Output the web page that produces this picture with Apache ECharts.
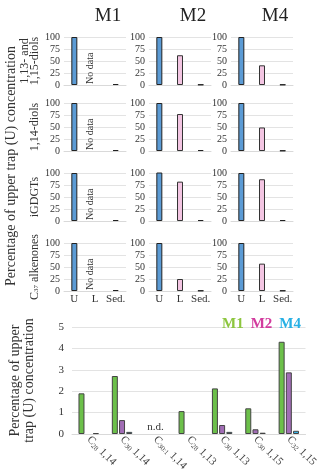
<!DOCTYPE html>
<html>
<head>
<meta charset="utf-8">
<script src="https://cdn.jsdelivr.net/npm/echarts@6/dist/echarts.min.js"></script>
<style>
html, body { margin: 0; background: #fff; }
#main { width: 320px; height: 476px; }
</style>
</head>
<body>
<div id="main"></div>
<script>
// small panels: percentage of upper trap (U) concentration
const sites = ['M1', 'M2', 'M4'];
const trapCats = ['U', 'L', 'Sed.'];
const compounds = ['1,13- and\n1,15-diols', '1,14-diols', 'iGDGTs', '{a|C}{s|37}{a| alkenones}'];
const m1Traps = [[100, null, 2], [100, null, 2], [100, null, 2], [100, null, 2]];
const m2Traps = [[100, 62, 1], [100, 77, 2], [101, 82, 2], [100, 25, 1]];
const m4Traps = [[100, 41, 1], [100, 49, 1], [100, 87, 2], [100, 57, 1]];
const noDataSite = 'M1';

// bottom panel: individual diols
const diolCats = ['{c|C}{s|28}{c| 1,14}', '{c|C}{s|30}{c| 1,14}', '{c|C}{s|30:1}{c| 1,14}',
  '{c|C}{s|28}{c| 1,13}', '{c|C}{s|30}{c| 1,13}', '{c|C}{s|30}{c| 1,15}', '{c|C}{s|32}{c| 1,15}'];
const m1Diols = [1.9, 2.71, null, 1.07, 2.13, 1.2, 4.31];
const m2Diols = [null, 0.65, null, null, 0.42, 0.22, 2.88];
const m4Diols = [0.04, 0.1, null, null, 0.1, 0.06, 0.15];
const notDetected = 2; // index of n.d. category

const serif = "'Liberation Serif', 'DejaVu Serif', serif";
const trapStyles = [
  { color: '#5b9bd5', borderColor: '#222', borderWidth: 1 },
  { color: '#f3c5e2', borderColor: '#333', borderWidth: 1 },
  { color: '#555', borderColor: '#222', borderWidth: 1 }
];
const siteColors = ['#6cc04a', '#a16db5', '#38b2e6'];
const legendColors = ['#8dc63f', '#d23c9e', '#27b0e4'];

const colLeft = [64, 149, 231];
const rowTop = [37, 103, 173, 243];
const panelW = 62, panelH = 48;
const trapData = [m1Traps, m2Traps, m4Traps];

const chart = echarts.init(document.getElementById('main'));
const grid = [], xAxis = [], yAxis = [], series = [];

compounds.forEach((name, r) => {
  sites.forEach((site, c) => {
    const idx = grid.length;
    grid.push({ left: colLeft[c], top: rowTop[r], width: panelW, height: panelH });
    xAxis.push({
      type: 'category', gridIndex: idx, data: trapCats,
      axisTick: { show: false },
      axisLine: { lineStyle: { color: '#d9d9d9' } },
      axisLabel: { show: r === 3, interval: 0, fontFamily: serif, fontSize: 11, color: '#333', margin: 3 }
    });
    yAxis.push({
      type: 'value', gridIndex: idx, min: 0, max: 100, interval: 25,
      axisLabel: { fontFamily: serif, fontSize: 10, color: '#333', margin: 4 },
      splitLine: { lineStyle: { color: '#e3e3e3' } },
      name: c === 0 ? name : '',
      nameLocation: 'middle', nameRotate: 90, nameGap: 23,
      nameTextStyle: {
        fontFamily: serif, fontSize: 12, color: '#333', lineHeight: 10,
        rich: { a: { fontFamily: serif, fontSize: 12, color: '#333' }, s: { fontFamily: serif, fontSize: 7, color: '#333', verticalAlign: 'bottom', padding: [5, 0, 0, 0] } }
      }
    });
    series.push({
      type: 'bar', xAxisIndex: idx, yAxisIndex: idx, barWidth: 6,
      data: trapData[c][r].map((v, i) => ({ value: v, itemStyle: trapStyles[i] }))
    });
  });
});

// bottom panel
const bIdx = grid.length;
grid.push({ left: 66, right: 13, top: 327, bottom: 42 });
xAxis.push({
  type: 'category', gridIndex: bIdx, data: diolCats,
  axisTick: { show: false },
  axisLine: { lineStyle: { color: '#d9d9d9' } },
  axisLabel: {
    rotate: -45, interval: 0, margin: 4, color: '#444',
    rich: {
      c: { fontFamily: serif, fontSize: 11, color: '#444' },
      s: { fontFamily: serif, fontSize: 7, color: '#444', verticalAlign: 'bottom', padding: [5, 0, 0, 0] }
    }
  }
});
yAxis.push({
  type: 'value', gridIndex: bIdx, min: 0, max: 5, interval: 1,
  axisLabel: { fontFamily: serif, fontSize: 11, color: '#333', margin: 8 },
  splitLine: { lineStyle: { color: '#e3e3e3' } },
  name: 'Percentage of upper\ntrap (U) concentration',
  nameLocation: 'middle', nameRotate: 90, nameGap: 36,
  nameTextStyle: { fontFamily: serif, fontSize: 14, color: '#333', lineHeight: 14 }
});
[m1Diols, m2Diols, m4Diols].forEach((vals, i) => {
  series.push({
    type: 'bar', name: sites[i], xAxisIndex: bIdx, yAxisIndex: bIdx,
    barWidth: 6, barGap: '20%',
    itemStyle: { color: siteColors[i], borderColor: '#444', borderWidth: 1 },
    data: vals
  });
});

chart.setOption({
  animation: false,
  title: sites.map((s, c) => ({
    text: s, left: colLeft[c] + panelW / 2 + 8, top: 2, textAlign: 'center',
    textStyle: { fontFamily: serif, fontSize: 19, fontWeight: 'normal', color: '#222' }
  })),
  legend: {
    right: 14, top: 312, itemWidth: 0, itemHeight: 0, itemGap: 6,
    data: sites.map((s, i) => ({ name: s, icon: 'none', textStyle: { color: legendColors[i] } })),
    textStyle: { fontFamily: serif, fontSize: 15, fontWeight: 'bold', padding: [0, 0, 0, -4] }
  },
  grid, xAxis, yAxis, series
});

// annotations placed through the axes
const graphic = [{
  type: 'text', x: 11, y: 166, rotation: Math.PI / 2,
  style: { text: 'Percentage of upper trap (U) concentration', fontFamily: serif, fontSize: 14, fill: '#333', align: 'center', verticalAlign: 'middle' }
}];
const nc = sites.indexOf(noDataSite);
compounds.forEach((name, r) => {
  const p = chart.convertToPixel({ gridIndex: r * 3 + nc }, [1, 0]);
  graphic.push({
    type: 'text', x: p[0] - 5, y: p[1] - 1, rotation: Math.PI / 2,
    style: { text: 'No data', fontFamily: serif, fontSize: 10, fill: '#333', align: 'left', verticalAlign: 'middle' }
  });
});
const nd = chart.convertToPixel({ gridIndex: bIdx }, [notDetected, 0]);
graphic.push({
  type: 'text', x: nd[0], y: nd[1] - 1,
  style: { text: 'n.d.', fontFamily: serif, fontSize: 11, fill: '#333', align: 'center', verticalAlign: 'bottom' }
});
chart.setOption({ graphic });
</script>
</body>
</html>
